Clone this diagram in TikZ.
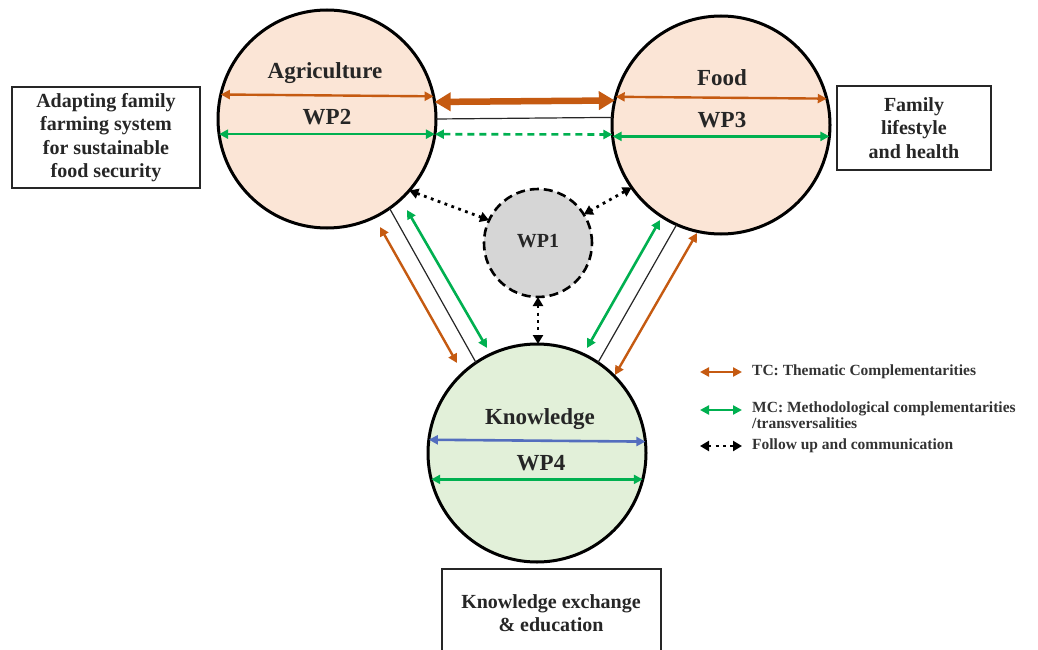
\documentclass[tikz,border=0pt]{standalone}
\usepackage{fontspec}
\setmainfont{Liberation Serif}
\usetikzlibrary{arrows.meta,shapes.geometric}
\definecolor{tcor}{RGB}{197,90,17}
\definecolor{mcgr}{RGB}{0,176,80}
\definecolor{kbl}{RGB}{84,110,190}
\definecolor{peach}{RGB}{251,229,214}
\definecolor{lgreen}{RGB}{226,240,217}
\definecolor{lgrey}{RGB}{214,214,214}
\tikzset{
  wpcirc/.style={circle, draw=black, line width=3pt, minimum size=218pt, inner sep=0pt, outer sep=0pt},
  wpone/.style={circle, draw=black, line width=2.6pt, dash pattern=on 9pt off 5pt, fill=lgrey, minimum size=108pt, inner sep=0pt, outer sep=0pt},
  lbl/.style={font=\fontsize{23}{25}\selectfont\bfseries, text=black!85, inner sep=0pt},
  boxtxt/.style={font=\fontsize{20}{23.5}\selectfont\bfseries, text=black!85, align=center, inner sep=0pt},
  legtxt/.style={font=\fontsize{15.5}{16}\selectfont\bfseries, text=black!80, anchor=west, inner sep=0pt, align=left},
  frame/.style={draw=black!85, line width=1.3pt},
  tcarrow/.style={draw=tcor, line width=2.4pt, {Triangle[length=9pt,width=9pt]}-{Triangle[length=9pt,width=9pt]}},
  tcthick/.style={draw=tcor, line width=6.5pt, {Triangle[length=16pt,width=18pt]}-{Triangle[length=16pt,width=18pt]}},
  mcarrow/.style={draw=mcgr, line width=2.6pt, {Triangle[length=9pt,width=9pt]}-{Triangle[length=9pt,width=9pt]}},
  mcdash/.style={mcarrow, dash pattern=on 7pt off 5pt},
  kbarrow/.style={draw=kbl, line width=2.6pt, {Triangle[length=9pt,width=9pt]}-{Triangle[length=9pt,width=9pt]}},
  fuarrow/.style={draw=black, line width=2.8pt, dash pattern=on 2.8pt off 4.5pt, {Triangle[length=9pt,width=10pt]}-{Triangle[length=9pt,width=10pt]}},
  thinline/.style={draw=black!85, line width=1.2pt},
}
\begin{document}
\begin{tikzpicture}[x=1pt,y=-1pt]
\clip (0,0) rectangle (1038,650);
\fill[white] (0,0) rectangle (1038,650);

% circles
\node[wpcirc, fill=peach] (agri) at (327,119) {};
\node[wpcirc, fill=peach] (food) at (721,125) {};
\node[wpcirc, fill=lgreen] (know) at (537,453) {};
\node[wpone] (wp1) at (538,243) {};

% labels in circles
\node[lbl] (agriT) at (325,73) {Agriculture};
\node[lbl] (agriW) at (327,117) {WP2};
\node[lbl] (foodT) at (722,78) {Food};
\node[lbl] (foodW) at (722,120) {WP3};
\node[lbl] (knowT) at (540,419) {Knowledge};
\node[lbl] (knowW) at (541,463) {WP4};
\node[lbl, font=\fontsize{20}{22}\selectfont\bfseries] (wp1T) at (538,241) {WP1};

% arrows inside circles
\draw[tcarrow] (agri.167.8) -- (agri.12.2);
\draw[mcarrow] (agri.188.4) -- (agri.-8.4);
\draw[tcarrow] (food.165.1) -- (food.14.9);
\draw[mcarrow] (food.186.85) -- (food.-6.85);
\draw[kbarrow] (know.173.7) -- (know.6.3);
\draw[mcarrow] (know.194.9) -- (know.-14.9);

% between agriculture and food
\draw[tcthick] (agri.9.5) -- (food.167.3);
\draw[thinline] (agri.0.5) -- (food.176.3);
\draw[mcdash] (agri.-8.4) -- (food.185.26);

% diagonal links
\coordinate (lo1) at (380,227); \coordinate (lo2) at (457,363);
\coordinate (lg1) at (407,210); \coordinate (lg2) at (487,348);
\coordinate (rg1) at (660,220); \coordinate (rg2) at (587,348);
\coordinate (ro1) at (697,233); \coordinate (ro2) at (615,375);
\draw[tcarrow] (lo1) -- (lo2);
\draw[thinline] (agri.-55.3) -- (know.124.7);
\draw[mcarrow] (lg1) -- (lg2);
\draw[mcarrow] (rg1) -- (rg2);
\draw[thinline] (food.246.7) -- (know.56.6);
\draw[tcarrow] (ro1) -- (ro2);

% follow-up arrows
\draw[fuarrow] (agri.-41) -- (wp1.155);
\draw[fuarrow] (food.215) -- (wp1.32);
\draw[fuarrow] (wp1.south) -- (wp1.south |- know.north);

% boxes
\draw[frame] (12,87) rectangle (200,188);
\node[boxtxt] (boxA) at (106,137.5) {Adapting family\\farming system\\for sustainable\\food security};
\draw[frame] (837,86) rectangle (991,170);
\node[boxtxt] (boxF) at (914,128) {Family\\lifestyle\\and health};
\draw[frame] (442,569) rectangle (661,665);
\node[boxtxt] (boxK) at (551,613) {Knowledge exchange\\\& education};

% legend
\coordinate (l1a) at (700,372); \coordinate (l1b) at (742,372);
\coordinate (l2a) at (700,410); \coordinate (l2b) at (742,410);
\coordinate (l3a) at (700,446); \coordinate (l3b) at (742,446);
\draw[tcarrow, line width=2.6pt] (l1a) -- (l1b);
\draw[mcarrow] (l2a) -- (l2b);
\draw[fuarrow] (l3a) -- (l3b);
\node[legtxt] (leg1) at (752,372) {TC: Thematic Complementarities};
\node[legtxt, anchor=north west] (leg2) at (752,402) {MC: Methodological complementarities\\/transversalities};
\node[legtxt] (leg3) at (752,446) {Follow up and communication};
\end{tikzpicture}
\end{document}
